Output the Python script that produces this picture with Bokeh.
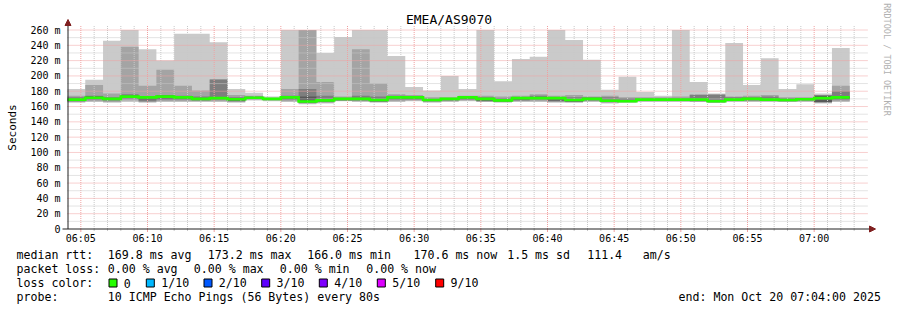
import math
from bokeh.plotting import figure
from bokeh.models import Range1d
from bokeh.core.properties import value
from bokeh.embed import file_html
from bokeh.resources import INLINE

# ---------------- data ----------------
chart_title = "EMEA/AS9070"
start_label = "06:04:00"
step_seconds = 80          # one SmokePing step (10 pings every 80 s)
span_seconds = 3600        # 06:04:00 .. 07:04:00

# sorted ping times per step (ms): max, 9th, 8th, 7th, median, 4th, 3rd, 2nd, min
rtt_max = [183, 195, 246, 260, 235, 220, 255, 255, 244, 183, 178, 173, 260, 260, 230,
           251, 260, 260, 226, 185.5, 181, 200, 183, 260, 193, 222, 225, 260, 247, 221,
           182, 199, 179, 174, 260, 192, 177, 243, 188, 223, 183, 189, 177, 236.5]
rtt_p9 = [174, 188, 177, 238, 187, 208, 187, 181, 196, 175, 174, 171.5, 183, 260, 192,
          173, 235, 190, 176, 175, 172, 172, 174, 174, 173, 174, 176, 174, 175, 173,
          174, 172, 172, 172, 173, 176, 176, 173, 174, 175, 172, 172, 175, 187]
rtt_p8 = [172, 174, 172, 176, 173, 175, 174, 173, 195, 172, 173, 171, 174, 183, 174,
          171.5, 174, 173, 174, 173, 170.5, 171, 172.5, 172, 171, 172, 174, 172, 172, 172,
          172, 171, 171, 171, 171, 175, 175.5, 172, 172, 173, 171, 171, 174.5, 180]
rtt_p7 = [170.5, 173, 171, 174, 172.5, 174, 173, 171, 172, 170.5, 172, 170.5, 173, 173, 170,
          171, 171, 170, 173, 172.5, 169.5, 170.5, 172.2, 171, 169, 171.5, 172, 171.5, 169.5, 171,
          168.5, 168, 170, 170, 170, 170, 168, 170, 171, 170, 169.5, 170.5, 174, 173]
rtt_median = [169, 171.5, 170, 173, 172, 173, 172, 170, 171, 169.5, 171.5, 170, 172, 166.5, 168,
              170, 170, 168.5, 172, 172, 168.5, 170, 172, 170, 168, 171, 171, 171, 168.5, 170,
              167.5, 167, 169, 169, 169, 169, 167, 169, 170, 169, 168.5, 169.5, 171, 172]
rtt_p4 = [168, 170, 169, 171, 169, 170, 170, 169, 170, 168, 170.5, 169.5, 170, 165.5, 167,
          169, 169, 167, 170, 170, 167.5, 169, 170, 168, 167, 169, 170, 168, 167, 168.5,
          166.5, 166.5, 168, 168, 168, 168, 166, 168, 168.5, 168, 167.5, 168.5, 166, 170]
rtt_p3 = [167, 169, 168, 170, 167, 169, 169, 168, 169, 167, 170, 169, 169, 165, 166,
          168, 168, 166.5, 169, 169, 167, 168, 169, 167, 166.5, 168, 169, 167, 166, 168,
          166, 166, 167.5, 167.5, 167.5, 167, 165.5, 167.5, 168, 167.5, 167, 168, 165.5, 169]
rtt_p2 = [166, 167, 166, 168, 166, 167, 167, 167, 167, 166, 169, 168, 167, 164, 165,
          167.5, 167, 166, 167, 168, 166, 167, 168, 166.5, 166, 167, 167, 166, 165.5, 167,
          165, 165.5, 167, 167, 167, 166.5, 165.2, 167, 167, 167, 166.5, 167, 165, 167]
rtt_min = [165, 166, 165, 166, 165, 166, 166, 166, 166, 165, 168, 167, 166, 163, 164,
           167, 166, 165, 166, 167, 165, 166, 167, 166, 165, 166, 166, 165, 165, 166,
           164, 165, 166, 166, 166, 166, 165, 166, 166, 166, 166, 166, 164, 166]

x_tick_labels = ["06:05", "06:10", "06:15", "06:20", "06:25", "06:30",
                 "06:35", "06:40", "06:45", "06:50", "06:55", "07:00"]
x_tick_minutes = [1, 6, 11, 16, 21, 26, 31, 36, 41, 46, 51, 56]   # minutes after 06:04
y_ticks = [0, 20, 40, 60, 80, 100, 120, 140, 160, 180, 200, 220, 240, 260]
y_tick_labels = ["0", "20 m", "40 m", "60 m", "80 m", "100 m", "120 m", "140 m",
                 "160 m", "180 m", "200 m", "220 m", "240 m", "260 m"]

legend_rtt = ["169.8 ms avg", "173.2 ms max", "166.0 ms min", "170.6 ms now", "1.5 ms sd", "111.4", "am/s"]
legend_loss = ["0.00 % avg", "0.00 % max", "0.00 % min", "0.00 % now"]
loss_labels = ["0", "1/10", "2/10", "3/10", "4/10", "5/10", "9/10"]
loss_colors = ["#26ff00", "#00b8ff", "#0059ff", "#5e00ff", "#7e00ff", "#dd00ff", "#ff0000"]
probe_text = "10 ICMP Echo Pings (56 Bytes) every 80s"
end_text = "end: Mon Oct 20 07:04:00 2025"

# ---------------- layout (pixels) ----------------
W, H = 897, 310
X0_PX = 67.0            # pixel column of 06:04:00
PX_PER_S = 800.0 / 3600.0
Y0_PX = 228.5           # pixel row of 0 ms
PX_PER_MS = 199.0 / 260.0


def sx(px):
    return (px - X0_PX) / PX_PER_S


def vy(py):
    return (Y0_PX - py) / PX_PER_MS


MONO = value("DejaVu Sans Mono")

p = figure(width=W, height=H, output_backend="svg", toolbar_location=None, title=None,
           x_range=Range1d(sx(0), sx(W)), y_range=Range1d(vy(H), vy(0)),
           x_axis_location=None, y_axis_location=None,
           min_border=0, min_border_left=0, min_border_right=0,
           min_border_top=0, min_border_bottom=0)
p.outline_line_color = None
p.grid.visible = False
p.background_fill_color = "white"
p.border_fill_color = "white"

n = len(rtt_median)
left = [k * step_seconds for k in range(n)]
right = [(k + 1) * step_seconds for k in range(n)]


def band(lo, hi):
    xs, ys = [], []
    for k in range(n):
        xs += [left[k], right[k]]
        ys += [hi[k], hi[k]]
    for k in reversed(range(n)):
        xs += [right[k], left[k]]
        ys += [lo[k], lo[k]]
    return xs, ys


for lo, hi, col in [(rtt_min, rtt_max, "#cacaca"), (rtt_p2, rtt_p9, "#a4a4a4"),
                    (rtt_p3, rtt_p8, "#7e7e7e"), (rtt_p4, rtt_p7, "#585858")]:
    bx, by = band(lo, hi)
    p.patch(bx, by, fill_color=col, line_color=None)

# grid (drawn over the smoke)
minor_col, major_col = "#c8c8c8", "#f0a0a0"
grid_top = vy(25)
for m in range(1, 60):
    s = m * 60
    col = major_col if m in x_tick_minutes else minor_col
    p.segment(x0=[s], y0=[0], x1=[s], y1=[grid_top], line_color=col, line_width=1, line_dash="1 1")
for v in range(10, 270, 10):
    col = major_col if v % 20 == 0 else minor_col
    p.segment(x0=[0], y0=[v], x1=[span_seconds + 2], y1=[v], line_color=col, line_width=1, line_dash="1 1")

# median line coloured by loss (0 loss -> green)
mx, my = [], []
for k in range(n):
    mx += [left[k], right[k]]
    my += [rtt_median[k], rtt_median[k]]
p.line(mx, my, line_color=loss_colors[0], line_width=2.6, line_join="miter", line_cap="butt")

# x axis ticks below
for m in range(1, 60):
    s = m * 60
    if m in x_tick_minutes:
        p.segment(x0=[s], y0=[0], x1=[s], y1=[vy(231.5)], line_color=major_col, line_width=1)
    else:
        p.segment(x0=[s], y0=[0], x1=[s], y1=[vy(230.5)], line_color=minor_col, line_width=1)

# axes lines and arrows
axis_col = "#202020"
arrow_col = "#7f1f1f"
p.segment(x0=[sx(67.5)], y0=[0], x1=[sx(67.5)], y1=[vy(22)], line_color=axis_col, line_width=1)
p.segment(x0=[sx(62)], y0=[0], x1=[sx(870)], y1=[0], line_color=axis_col, line_width=1)
p.patch([sx(64.5), sx(70.5), sx(67.5)], [vy(25), vy(25), vy(19)], fill_color=arrow_col, line_color=arrow_col)
p.patch([sx(869), sx(869), sx(875)], [vy(225.5), vy(231.5), vy(228.5)], fill_color=arrow_col, line_color=arrow_col)

# tick labels (vertically centred on their grid line)
p.text(x=[sx(60)] * len(y_ticks), y=y_ticks, text=y_tick_labels,
       text_font=MONO, text_font_size=value("10px"), text_align="right",
       text_baseline="middle", text_color="#000000")
p.text(x=[m * 60 for m in x_tick_minutes], y=[vy(237.5)] * len(x_tick_minutes), text=x_tick_labels,
       text_font=MONO, text_font_size=value("10px"), text_align="center",
       text_baseline="middle", text_color="#000000")

# title, axis label, watermark
p.text(x=[sx(448.5)], y=[vy(19)], text=[chart_title], text_font=MONO,
       text_font_size=value("13px"), text_align="center", text_baseline="middle", text_color="#000000")
p.text(x=[sx(12)], y=[vy(127)], text=["Seconds"], text_font=MONO, angle=math.pi / 2,
       text_font_size=value("11px"), text_align="center", text_baseline="middle", text_color="#000000")
p.text(x=[sx(886)], y=[vy(59)], text=["RRDTOOL / TOBI OETIKER"], text_font=MONO, angle=-math.pi / 2,
       text_font_size=value("8.5px"), text_align="center", text_baseline="middle", text_color="#b0b0b0")

# legend
LF = value("11.6px")
rows = [254.2, 268.4, 282.5, 296.2]
txt_x, txt_y, txt = [], [], []
txt_x += [16, 107.3, 207.3, 306.7, 413, 506.7, 586.7, 642.3]
txt_y += [rows[0]] * 8
txt += ["median rtt:"] + legend_rtt
txt_x += [16, 107.3, 193.3, 279.3, 365.7]
txt_y += [rows[1]] * 5
txt += ["packet loss:"] + legend_loss
txt_x += [16]
txt_y += [rows[2]]
txt += ["loss color:"]
loss_box_cx = [112.5, 149.8, 207.5, 265.2, 322.8, 380.8, 439.2]
loss_lab_x = [123.3, 160.7, 218.3, 276, 333.7, 391.7, 450]
txt_x += loss_lab_x
txt_y += [rows[2]] * len(loss_labels)
txt += loss_labels
txt_x += [16, 107.3, 678]
txt_y += [rows[3]] * 3
txt += ["probe:", probe_text, end_text]
p.text(x=[sx(v) for v in txt_x], y=[vy(v) for v in txt_y], text=txt, text_font=MONO,
       text_font_size=LF, text_align="left", text_baseline="middle", text_color="#000000")

box_l = [sx(c - 4) for c in loss_box_cx]
box_r = [sx(c + 4) for c in loss_box_cx]
p.quad(left=box_l, right=box_r, bottom=[vy(286.5)] * 7, top=[vy(278.5)] * 7,
       fill_color=loss_colors, line_color="#000000", line_width=1)

open("out.html", "w").write(file_html(p, INLINE))
